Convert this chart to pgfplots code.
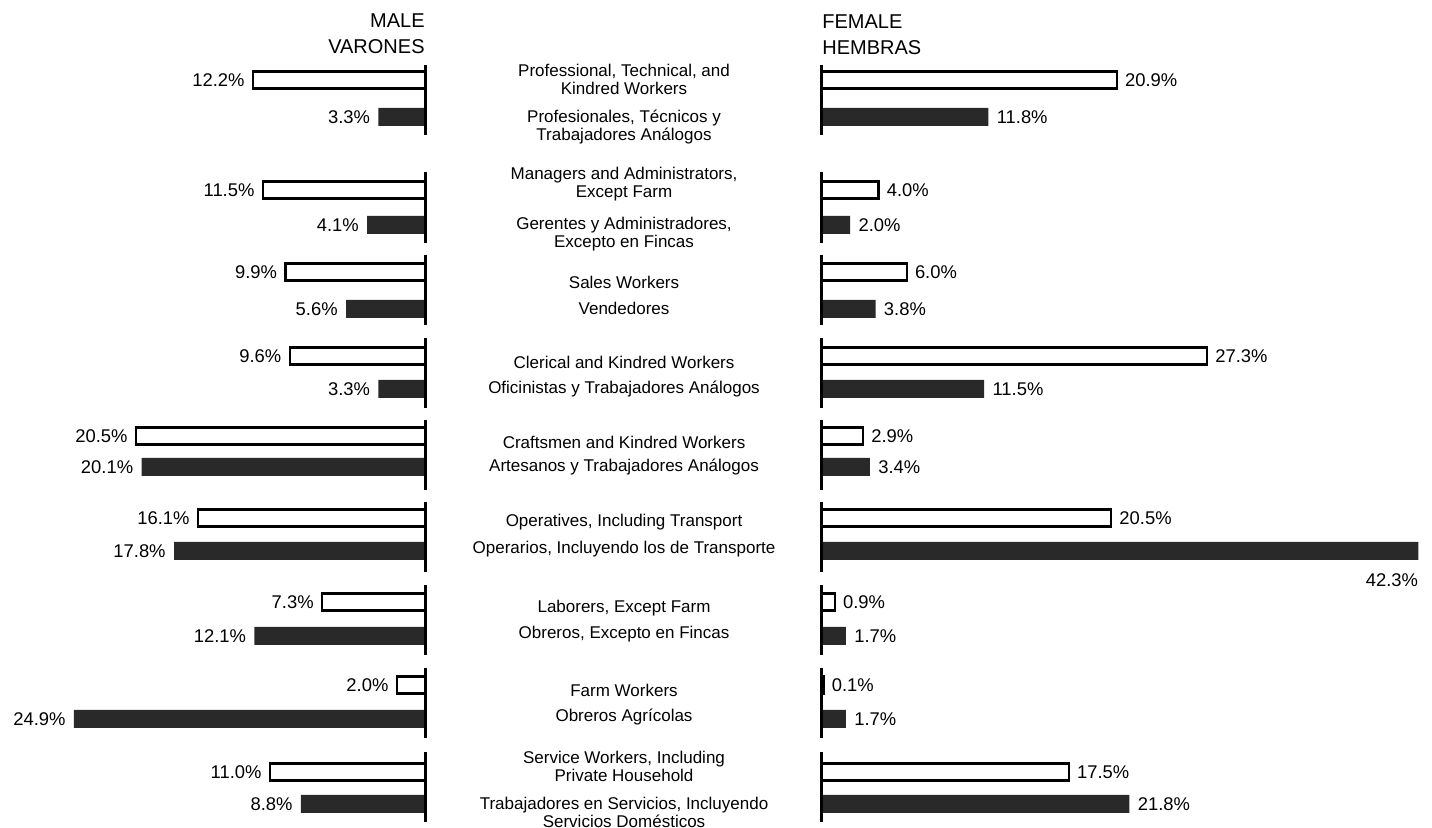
\documentclass[border=0pt]{standalone}
\usepackage{fontspec}
\setmainfont{Liberation Sans}
\usepackage{pgfplots}
\pgfplotsset{compat=1.18}
\definecolor{darkbar}{gray}{0.16}
\newcommand\lab{\fontsize{8.5}{9}\selectfont}
\newcommand\val{\fontsize{9.2}{10}\selectfont}
\newcommand\hdr{\fontsize{10}{12}\selectfont}
\newcommand\grouplines{%
  \draw[line width=1.5pt] (axis cs:0,65) -- (axis cs:0,135);
  \draw[line width=1.5pt] (axis cs:0,172) -- (axis cs:0,243);
  \draw[line width=1.5pt] (axis cs:0,255) -- (axis cs:0,325);
  \draw[line width=1.5pt] (axis cs:0,338) -- (axis cs:0,408);
  \draw[line width=1.5pt] (axis cs:0,420) -- (axis cs:0,490);
  \draw[line width=1.5pt] (axis cs:0,502) -- (axis cs:0,572);
  \draw[line width=1.5pt] (axis cs:0,585) -- (axis cs:0,655);
  \draw[line width=1.5pt] (axis cs:0,668) -- (axis cs:0,738);
  \draw[line width=1.5pt] (axis cs:0,752) -- (axis cs:0,822);
}
\begin{document}
\begin{tikzpicture}
\useasboundingbox (0,0) rectangle (716pt,414pt);
% ---------------- MALE ----------------
\begin{axis}[
  at={(0,0)}, anchor=south west,
  scale only axis, width=212.5pt, height=414pt,
  hide axis, clip=false,
  x dir=reverse, xmin=0, xmax=30.14,
  y dir=reverse, ymin=0, ymax=828,
]
\addplot[xbar, bar shift=0pt, bar width=17, fill=white, draw=black, line width=1.1pt]
  coordinates {(12.2,80) (11.5,190) (9.9,272) (9.6,356) (20.5,436) (16.1,518) (7.3,602) (2.0,685) (11.0,772)};
\addplot[xbar, bar shift=0pt, bar width=18, fill=darkbar, draw=none]
  coordinates {(3.3,117) (4.1,225) (5.6,309) (3.3,389) (20.1,467) (17.8,551) (12.1,636) (24.9,719) (8.8,804)};
\grouplines
\begin{scope}[every node/.style={anchor=east, font=\val, inner sep=0pt, xshift=-4pt}]
\node at (axis cs:12.2,80) {12.2\%};
\node at (axis cs:11.5,190) {11.5\%};
\node at (axis cs:9.9,272) {9.9\%};
\node at (axis cs:9.6,356) {9.6\%};
\node at (axis cs:20.5,436) {20.5\%};
\node at (axis cs:16.1,518) {16.1\%};
\node at (axis cs:7.3,602) {7.3\%};
\node at (axis cs:2.0,685) {2.0\%};
\node at (axis cs:11.0,772) {11.0\%};
\node at (axis cs:3.3,117) {3.3\%};
\node at (axis cs:4.1,225) {4.1\%};
\node at (axis cs:5.6,309) {5.6\%};
\node at (axis cs:3.3,389) {3.3\%};
\node at (axis cs:20.1,467) {20.1\%};
\node at (axis cs:17.8,551) {17.8\%};
\node at (axis cs:12.1,636) {12.1\%};
\node at (axis cs:24.9,719) {24.9\%};
\node at (axis cs:8.8,804) {8.8\%};
\end{scope}
\node[anchor=east, inner sep=0pt, font=\hdr] at (axis cs:0,21) {MALE};
\node[anchor=east, inner sep=0pt, font=\hdr] at (axis cs:0,47) {VARONES};
\end{axis}
% ---------------- FEMALE ----------------
\begin{axis}[
  at={(411pt,0)}, anchor=south west,
  scale only axis, width=305pt, height=414pt,
  hide axis, clip=false,
  xmin=0, xmax=43.26,
  y dir=reverse, ymin=0, ymax=828,
]
\addplot[xbar, bar shift=0pt, bar width=17, fill=white, draw=black, line width=1.1pt]
  coordinates {(20.9,80) (4.0,190) (6.0,272) (27.3,356) (2.9,436) (20.5,518) (0.9,602) (0.1,685) (17.5,772)};
\addplot[xbar, bar shift=0pt, bar width=18, fill=darkbar, draw=none]
  coordinates {(11.8,117) (2.0,225) (3.8,309) (11.5,389) (3.4,467) (42.3,551) (1.7,636) (1.7,719) (21.8,804)};
\grouplines
\begin{scope}[every node/.style={anchor=west, font=\val, inner sep=0pt, xshift=4pt}]
\node at (axis cs:20.9,80) {20.9\%};
\node at (axis cs:4.0,190) {4.0\%};
\node at (axis cs:6.0,272) {6.0\%};
\node at (axis cs:27.3,356) {27.3\%};
\node at (axis cs:2.9,436) {2.9\%};
\node at (axis cs:20.5,518) {20.5\%};
\node at (axis cs:0.9,602) {0.9\%};
\node at (axis cs:0.1,685) {0.1\%};
\node at (axis cs:17.5,772) {17.5\%};
\node at (axis cs:11.8,117) {11.8\%};
\node at (axis cs:2.0,225) {2.0\%};
\node at (axis cs:3.8,309) {3.8\%};
\node at (axis cs:11.5,389) {11.5\%};
\node at (axis cs:3.4,467) {3.4\%};
\node at (axis cs:1.7,636) {1.7\%};
\node at (axis cs:1.7,719) {1.7\%};
\node at (axis cs:21.8,804) {21.8\%};
\end{scope}
\node[anchor=north east, inner sep=0pt, font=\val] at (axis cs:42.3,573) {42.3\%};
\node[anchor=west, inner sep=0pt, font=\hdr] at (axis cs:0,22) {FEMALE};
\node[anchor=west, inner sep=0pt, font=\hdr] at (axis cs:0,48) {HEMBRAS};
% ---------------- CENTRE LABELS ----------------
\begin{scope}[every node/.style={align=center, font=\lab, inner sep=0pt}]
\node at (axis cs:-14.04,79) {Professional, Technical, and\\Kindred Workers};
\node at (axis cs:-14.04,127) {Profesionales, Técnicos y\\Trabajadores Análogos};
\node at (axis cs:-14.04,184) {Managers and Administrators,\\Except Farm};
\node at (axis cs:-14.04,234) {Gerentes y Administradores,\\Excepto en Fincas};
\node at (axis cs:-14.04,282) {Sales Workers};
\node at (axis cs:-14.04,308) {Vendedores};
\node at (axis cs:-14.04,362) {Clerical and Kindred Workers};
\node at (axis cs:-14.04,389) {Oficinistas y Trabajadores Análogos};
\node at (axis cs:-14.04,442) {Craftsmen and Kindred Workers};
\node at (axis cs:-14.04,467) {Artesanos y Trabajadores Análogos};
\node at (axis cs:-14.04,522) {Operatives, Including Transport};
\node at (axis cs:-14.04,549) {Operarios, Incluyendo los de Transporte};
\node at (axis cs:-14.04,608) {Laborers, Except Farm};
\node at (axis cs:-14.04,634) {Obreros, Excepto en Fincas};
\node at (axis cs:-14.04,690) {Farm Workers};
\node at (axis cs:-14.04,717) {Obreros Agrícolas};
\node at (axis cs:-14.04,766) {Service Workers, Including\\Private Household};
\node at (axis cs:-14.04,812) {Trabajadores en Servicios, Incluyendo\\Servicios Domésticos};
\end{scope}
\end{axis}
\end{tikzpicture}
\end{document}
